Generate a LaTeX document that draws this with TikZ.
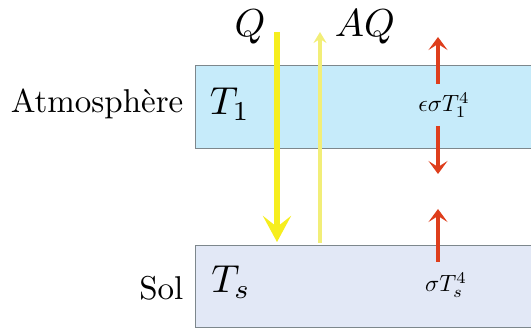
\documentclass[tikz,border=0pt]{standalone}
\usetikzlibrary{arrows.meta}
\definecolor{atmfill}{RGB}{198,235,250}
\definecolor{solfill}{RGB}{226,232,246}
\definecolor{edgegrey}{RGB}{125,135,140}
\definecolor{qyellow}{RGB}{246,238,30}
\definecolor{aqyellow}{RGB}{242,238,120}
\definecolor{redarr}{RGB}{222,62,28}
\tikzset{
  layer/.style={draw=edgegrey, line width=1.2pt, rectangle, inner sep=0pt, anchor=north west, minimum width=345pt},
  bigmath/.style={inner sep=0pt, anchor=base, scale=3.9, font=\fontsize{10}{12}\selectfont},
  smallmath/.style={inner sep=0pt, anchor=base, scale=2.35, font=\fontsize{10}{12}\selectfont},
  lbl/.style={inner sep=0pt, anchor=base east, scale=3.3, font=\fontsize{10}{12}\selectfont},
  qarrow/.style={draw=qyellow, line width=6pt, -{Stealth[length=26pt,width=28pt,inset=11pt]}},
  aqarrow/.style={draw=aqyellow, line width=3.5pt, -{Stealth[length=11pt,width=13pt,inset=4pt]}},
  redarrow/.style={draw=redarr, line width=3.5pt, -{Stealth[length=13pt,width=19pt,inset=6pt]}}
}
\begin{document}
\begin{tikzpicture}[x=1pt,y=-1pt]
\useasboundingbox (0,0) rectangle (531,328);
\fill[white] (0,0) rectangle (531,328);
% layers
\node[layer, fill=atmfill, minimum height=83pt] (atm) at (195,65) {};
\node[layer, fill=solfill, minimum height=82pt] (sol) at (195,245) {};
% labels
\node[lbl] (latm) at (184,113) {Atmosphère};
\node[lbl] (lsol) at (184,300) {Sol};
\node[bigmath] (t1) at (230,115) {$T_1$};
\node[bigmath] (ts) at (231,293) {$T_s$};
\node[bigmath] (q) at (250,37) {$Q$};
\node[bigmath] (aq) at (365,37) {$AQ$};
\node[smallmath] (e1) at (444,112) {$\epsilon\sigma T_1^4$};
\node[smallmath] (es) at (446,292) {$\sigma T_s^4$};
% arrow endpoints
\coordinate (qs) at (277,32);
\coordinate (qe) at (277,242);
\coordinate (aqs) at (320,243);
\coordinate (aqe) at (320,32);
\coordinate (r1s) at (438,84);
\coordinate (r1e) at (438,37);
\coordinate (r2s) at (438,126);
\coordinate (r2e) at (438,174);
\coordinate (r3s) at (438,262);
\coordinate (r3e) at (438,209);
% arrows
\draw[qarrow] (qs) -- (qe);
\draw[aqarrow] (aqs) -- (aqe);
\draw[redarrow] (r1s) -- (r1e);
\draw[redarrow] (r2s) -- (r2e);
\draw[redarrow] (r3s) -- (r3e);
\end{tikzpicture}
\end{document}
